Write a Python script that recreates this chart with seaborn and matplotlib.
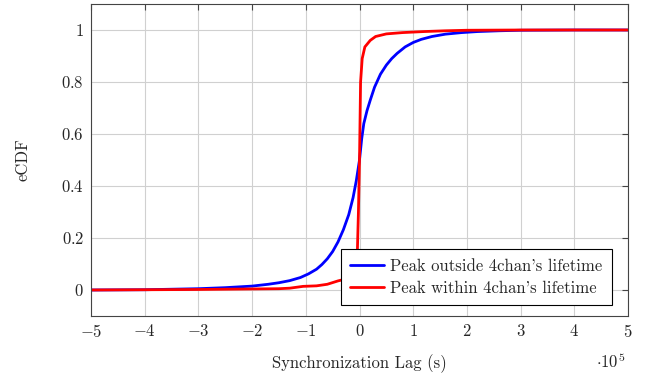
import numpy as np
import pandas as pd
import matplotlib
matplotlib.use("Agg")
import matplotlib.pyplot as plt
import seaborn as sns

# Synchronization lag in units of 1e5 seconds
blue_x = [-5, -4, -3, -2.5, -2, -1.7, -1.5, -1.3, -1.1, -0.95, -0.8, -0.7, -0.6, -0.5, -0.4,
          -0.3, -0.2, -0.12, -0.06, 0, 0.04, 0.08, 0.14, 0.2, 0.28, 0.39, 0.5, 0.6, 0.7, 0.85,
          1.0, 1.15, 1.35, 1.6, 1.9, 2.2, 2.6, 3, 4, 5]
blue_y = [0, 0.001, 0.005, 0.009, 0.015, 0.022, 0.028, 0.036, 0.048, 0.062, 0.08, 0.098, 0.12,
          0.148, 0.185, 0.232, 0.29, 0.355, 0.42, 0.5, 0.58, 0.64, 0.69, 0.73, 0.78, 0.83, 0.865,
          0.89, 0.91, 0.935, 0.952, 0.964, 0.975, 0.984, 0.99, 0.994, 0.997, 0.999, 1, 1]
red_x = [-5, -3, -2, -1.5, -1.3, -1.05, -0.8, -0.6, -0.4, -0.2, -0.05, -0.02, 0, 0.02, 0.05,
         0.1, 0.2, 0.3, 0.5, 0.8, 1.2, 1.6, 2, 3, 5]
red_y = [0, 0.002, 0.004, 0.005, 0.007, 0.014, 0.016, 0.022, 0.035, 0.045, 0.07, 0.3, 0.5, 0.8, 0.89,
         0.935, 0.96, 0.975, 0.985, 0.99, 0.994, 0.997, 0.999, 1, 1]
labels = ["Peak outside 4chan's lifetime", "Peak within 4chan's lifetime"]
x_ticks = [-5, -4, -3, -2, -1, 0, 1, 2, 3, 4, 5]
y_ticks = [0, 0.2, 0.4, 0.6, 0.8, 1]

df = pd.concat([
    pd.DataFrame({"lag": blue_x, "ecdf": blue_y, "group": labels[0]}),
    pd.DataFrame({"lag": red_x, "ecdf": red_y, "group": labels[1]}),
], ignore_index=True)

sns.set_style("whitegrid")
plt.rcParams["font.family"] = ["serif"]
plt.rcParams["font.serif"] = ["cmr10", "DejaVu Serif"]
plt.rcParams["mathtext.fontset"] = "cm"
plt.rcParams["axes.formatter.use_mathtext"] = True

fig = plt.figure(figsize=(6.52, 3.79), dpi=100)
ax = fig.add_axes([91/652, 1-316/379, (628-91)/652, (316-4)/379])

sns.lineplot(data=df, x="lag", y="ecdf", hue="group", palette=["#0000ff", "#ff0000"],
             linewidth=2.0, ax=ax, sort=False, estimator=None)

ax.set_xlim(-5, 5)
ax.set_ylim(-0.1, 1.1)
ax.set_xticks(x_ticks)
ax.set_yticks(y_ticks)
ax.set_xticklabels([f"${v}$" if v >= 0 else f"$-{abs(v)}$" for v in x_ticks])
ax.set_yticklabels(["$0$", "$0.2$", "$0.4$", "$0.6$", "$0.8$", "$1$"])
ax.grid(True, color="#d0d0d0", linewidth=0.8)
for s in ax.spines.values():
    s.set_color("#444444")
    s.set_linewidth(0.8)
ax.tick_params(direction="in", length=4, color="#444444", top=True, right=True,
               labelsize=12, pad=5)
ax.set_xlabel("Synchronization Lag (s)", fontsize=12, labelpad=10)
ax.set_ylabel("eCDF", fontsize=12, labelpad=22)
ax.text(0.995, -0.115, r"$\cdot 10^5$", transform=ax.transAxes, ha="right", va="top", fontsize=12)

leg = ax.legend(loc="lower right", bbox_to_anchor=(0.97, 0.035), borderaxespad=0,
                fontsize=12, frameon=True, fancybox=False, title=None,
                handlelength=2.0, borderpad=0.55, labelspacing=0.42, handletextpad=0.4)
leg.get_frame().set_edgecolor("black")
leg.get_frame().set_linewidth(0.8)
leg.get_frame().set_alpha(1)

fig.savefig("out.png", dpi=100)
